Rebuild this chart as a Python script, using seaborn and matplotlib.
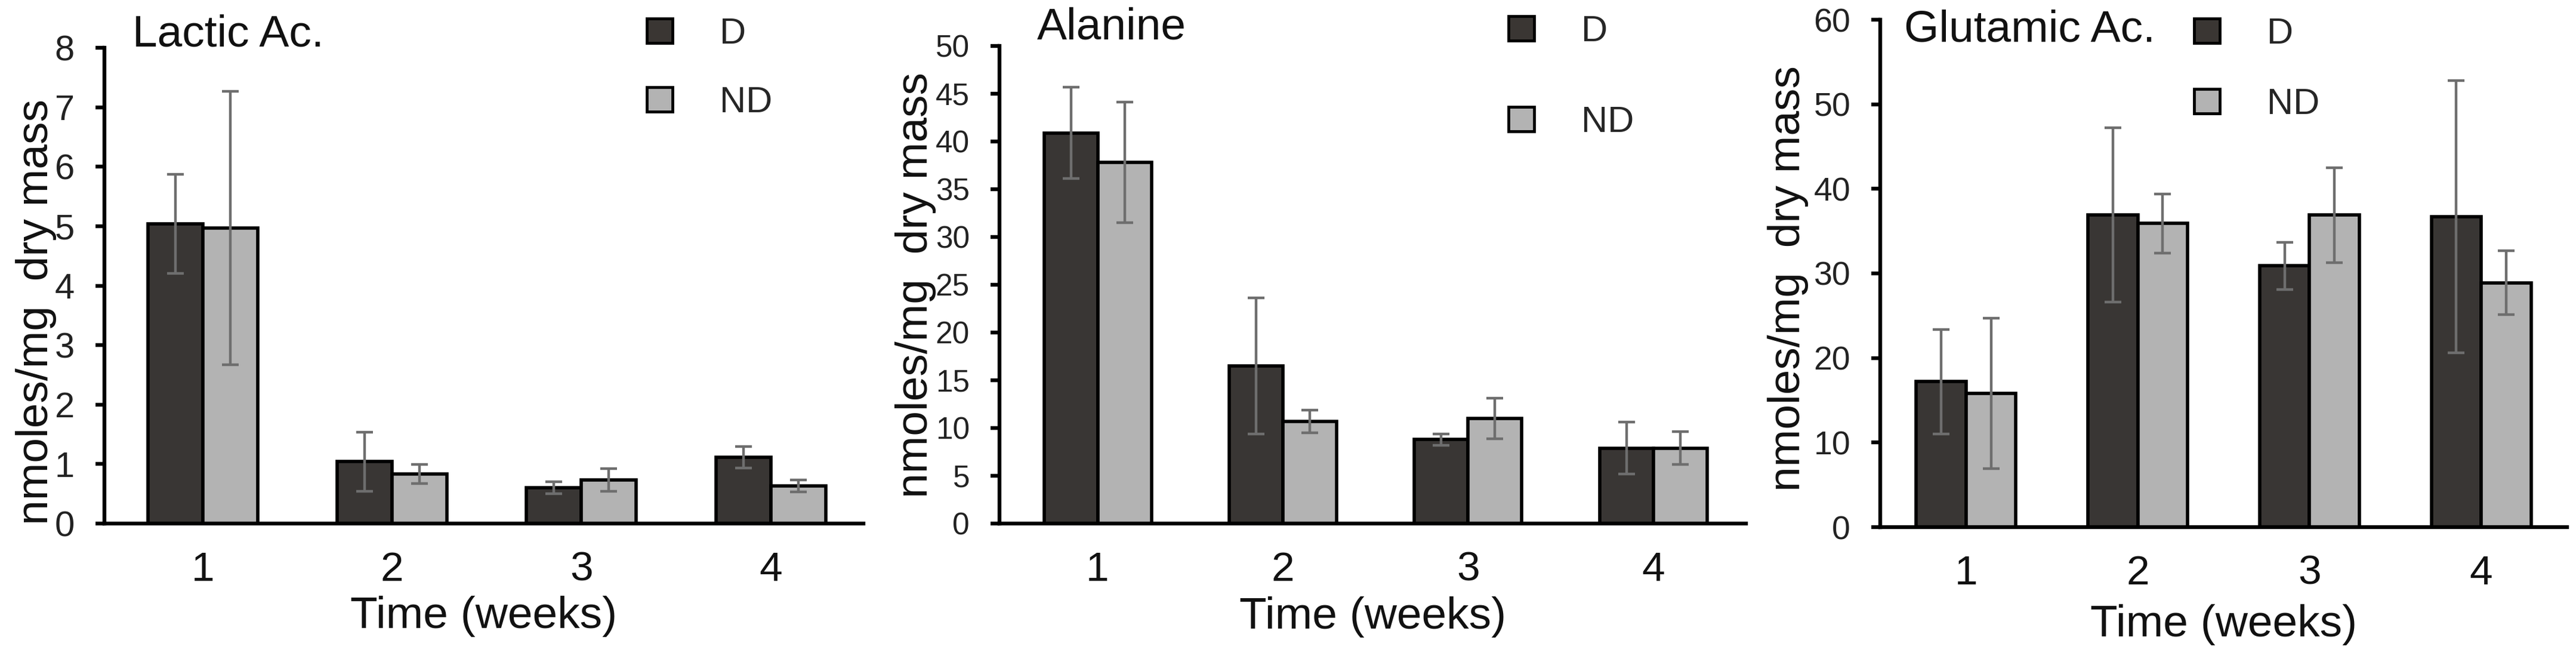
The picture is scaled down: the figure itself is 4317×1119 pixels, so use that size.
import pandas as pd
import matplotlib.pyplot as plt
from matplotlib.patches import Patch
import seaborn as sns

# data (mean and error bar half-length)
weeks = ['1', '2', '3', '4']
groups = ['D', 'ND']
titles = ['Lactic Ac.', 'Alanine', 'Glutamic Ac.']

lactic_d = [5.04, 1.04, 0.60, 1.11]
lactic_nd = [4.97, 0.83, 0.73, 0.63]
lactic_d_err = [0.83, 0.50, 0.10, 0.18]
lactic_nd_err = [2.30, 0.16, 0.19, 0.10]

alanine_d = [40.9, 16.5, 8.8, 7.9]
alanine_nd = [37.8, 10.7, 11.0, 7.9]
alanine_d_err = [4.8, 7.1, 0.6, 2.7]
alanine_nd_err = [6.3, 1.2, 2.1, 1.7]

glutamic_d = [17.2, 36.9, 30.9, 36.7]
glutamic_nd = [15.8, 35.9, 36.9, 28.9]
glutamic_d_err = [6.2, 10.3, 2.8, 16.1]
glutamic_nd_err = [8.9, 3.5, 5.6, 3.8]

y_max = [8, 50, 60]
y_step = [1, 5, 10]

sns.set_style('white')
plt.rcParams['font.family'] = ['Liberation Sans', 'DejaVu Sans']

dark = '#3a3633'
light = '#b3b3b3'
err_color = '#6e6e6e'

W, H = 4317, 1119
fig = plt.figure(figsize=(W / 100, H / 100), dpi=100)

# axes boxes in pixels: left, right, top, bottom
boxes = [(175, 1447, 80, 877), (1675, 2926, 77, 877), (3151, 4302, 33, 883)]
xlims = [(-0.52, 3.49), (-0.53, 3.50), (-0.5, 3.5)]
ytick_size = [43, 37, 40]
ylabel_x = [-0.063, -0.085, -0.104]
ylabel_y = [0.445, 0.50, 0.49]
title_pos = [(222, 78), (1738, 66), (3191, 70)]
legend_pos = [(1084, 29), (2528, 25), (3677, 29)]
legend_spacing = [0.95, 1.55, 1.0]

panels = [
    (lactic_d, lactic_nd, lactic_d_err, lactic_nd_err),
    (alanine_d, alanine_nd, alanine_d_err, alanine_nd_err),
    (glutamic_d, glutamic_nd, glutamic_d_err, glutamic_nd_err),
]

for i, (d, nd, d_err, nd_err) in enumerate(panels):
    l, r, t, b = boxes[i]
    ax = fig.add_axes([l / W, (H - b) / H, (r - l) / W, (b - t) / H])

    df = pd.DataFrame({
        'week': weeks * 2,
        'group': ['D'] * 4 + ['ND'] * 4,
        'value': d + nd,
    })
    sns.barplot(data=df, x='week', y='value', hue='group', order=weeks,
                hue_order=groups, palette=[dark, light], width=0.58,
                edgecolor='black', linewidth=4, errorbar=None,
                legend=False, ax=ax, zorder=2)

    # error bars on top of the seaborn bars
    for cont, errs in zip(ax.containers, [d_err, nd_err]):
        xs = [p.get_x() + p.get_width() / 2 for p in cont.patches]
        ys = [p.get_height() for p in cont.patches]
        ax.errorbar(xs, ys, yerr=errs, fmt='none', ecolor=err_color,
                    elinewidth=3.2, capsize=10, capthick=3.2, zorder=3)

    ax.set_xlim(*xlims[i])
    ax.set_ylim(0, y_max[i])
    ax.set_yticks(range(0, y_max[i] + 1, y_step[i]))

    for side in ['top', 'right']:
        ax.spines[side].set_visible(False)
    for side in ['left', 'bottom']:
        ax.spines[side].set_color('black')
        ax.spines[side].set_linewidth(4.6)

    ax.tick_params(axis='y', direction='out', length=11, width=4.6,
                   color='black', pad=25, labelsize=ytick_size[i],
                   labelcolor='#222222', left=True)
    ax.tick_params(axis='x', length=0, pad=33, labelsize=50,
                   labelcolor='#111111')

    ax.set_xlabel('Time (weeks)', fontsize=54, color='#111111')
    ax.xaxis.set_label_coords(0.5, -0.152)
    ax.set_ylabel('nmoles/mg  dry mass', fontsize=54, color='#111111')
    ax.yaxis.set_label_coords(ylabel_x[i], ylabel_y[i])

    tx, ty = title_pos[i]
    fig.text(tx / W, (H - ty) / H, titles[i], fontsize=54,
             color='#111111', ha='left', va='baseline')

    handles = [Patch(facecolor=dark, edgecolor='black', linewidth=3.5),
               Patch(facecolor=light, edgecolor='black', linewidth=3.5)]
    lx, ly = legend_pos[i]
    ax.legend(handles, groups, loc='upper left',
              bbox_to_anchor=(lx / W, (H - ly) / H),
              bbox_transform=fig.transFigure, frameon=False, fontsize=44,
              borderpad=0, borderaxespad=0, handlelength=0.7,
              handleheight=0.65, handletextpad=1.3,
              labelspacing=legend_spacing[i])

fig.savefig('out.png', dpi=100, facecolor='white')
